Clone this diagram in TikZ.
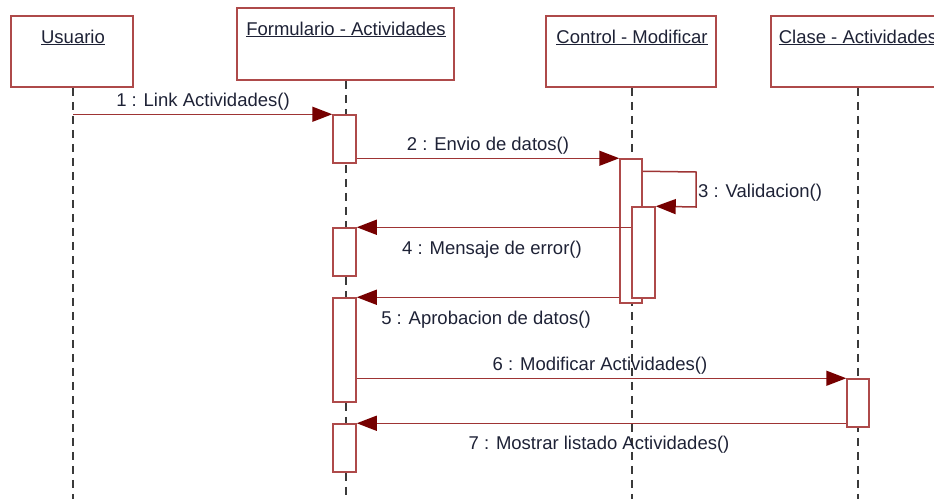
\documentclass[tikz,border=0pt]{standalone}
\usepackage{fontspec}
\setmainfont{Liberation Sans}
\usetikzlibrary{arrows.meta,calc}
\definecolor{boxred}{HTML}{AE4A4A}
\definecolor{msgred}{HTML}{9E3434}
\definecolor{tipred}{HTML}{760000}
\definecolor{txt}{HTML}{1E2236}
\definecolor{life}{HTML}{3A3A3A}
\tikzset{
  objbox/.style={draw=boxred,line width=1.7pt,fill=white,rectangle,inner sep=0pt},
  objlabel/.style={text=txt,font=\fontsize{18.5}{20}\selectfont,anchor=base,inner sep=0pt},
  actbox/.style={draw=boxred,line width=1.5pt,fill=white,rectangle,inner sep=0pt,minimum width=23pt},
  lifeline/.style={draw=life,line width=1.4pt,dash pattern=on 8pt off 6pt},
  msg/.style={draw=msgred,line width=1.5pt,line join=miter,-{Triangle[length=20pt,width=15pt,fill=tipred,color=tipred]}},
  msglabel/.style={text=txt,font=\fontsize{18.5}{20}\selectfont,anchor=base,inner sep=0pt}
}
\begin{document}
\begin{tikzpicture}[x=1pt,y=-1pt]
\useasboundingbox (0,0) rectangle (934,499);
\clip (0,0) rectangle (934,499);
% object boxes
\node[objbox,minimum width=122pt,minimum height=71pt] (usu) at (72,51.5) {};
\node[objbox,minimum width=217pt,minimum height=72pt] (form) at (345.5,44) {};
\node[objbox,minimum width=170pt,minimum height=71pt] (ctrl) at (631,51.5) {};
\node[objbox,minimum width=174pt,minimum height=71pt] (clase) at (858,51.5) {};
\node[objlabel] (usuT) at (73,43) {\underline{Usuario}};
\node[objlabel] (formT) at (346,35) {\underline{Formulario - Actividades}};
\node[objlabel] (ctrlT) at (632,43) {\underline{Control - Modificar}};
\node[objlabel] (claseT) at (858,43) {\underline{Clase - Actividades}};
% lifeline ends
\coordinate (usuE) at (73,499);
\coordinate (formE) at (346,499);
\coordinate (ctrlE) at (632,499);
\coordinate (claseE) at (858,499);
\draw[lifeline] (usu.south -| usuE) -- (usuE);
\draw[lifeline] (form.south -| formE) -- (formE);
\draw[lifeline] (ctrl.south -| ctrlE) -- (ctrlE);
\draw[lifeline] (clase.south -| claseE) -- (claseE);
% activations
\node[actbox,minimum height=48pt] (f1) at (344.5,139) {};
\node[actbox,minimum height=48pt] (f2) at (344.5,252) {};
\node[actbox,minimum height=104pt] (f3) at (344.5,350) {};
\node[actbox,minimum height=48pt] (f4) at (344.5,448) {};
\node[actbox,minimum width=22pt,minimum height=144pt] (c1) at (631,231) {};
\node[actbox,minimum height=91pt] (c2) at (643.5,252.5) {};
\node[actbox,minimum width=22pt,minimum height=48pt] (k1) at (858,403) {};
% self-call corner coordinates
\coordinate (s1) at ($(c1.north east)+(0,13)$);
\coordinate (s2) at (696,172);
\coordinate (s3) at (696,207);
% messages
\draw[msg] (usuE |- f1.north west) -- (f1.north west);
\draw[msg] (f1.east |- c1.north west) -- (c1.north west);
\draw[msg] (s1) -- (s2) -- (s3) -- (c2.north east);
\draw[msg] (c2.west |- f2.north east) -- (f2.north east);
\draw[msg] (c1.west |- f3.north east) -- (f3.north east);
\draw[msg] (f3.east |- k1.north west) -- (k1.north west);
\draw[msg] (k1.west |- f4.north east) -- (f4.north east);
% labels
\node[msglabel] (m1) at (203,106) {1 : Link Actividades()};
\node[msglabel] (m2) at (488,150) {2 : Envio de datos()};
\node[msglabel,anchor=base west] (m3) at (698,197) {3 : Validacion()};
\node[msglabel] (m4) at (492,254) {4 : Mensaje de error()};
\node[msglabel] (m5) at (486,324) {5 : Aprobacion de datos()};
\node[msglabel] (m6) at (600,370) {6 : Modificar Actividades()};
\node[msglabel] (m7) at (599,449) {7 : Mostrar listado Actividades()};
\end{tikzpicture}
\end{document}
